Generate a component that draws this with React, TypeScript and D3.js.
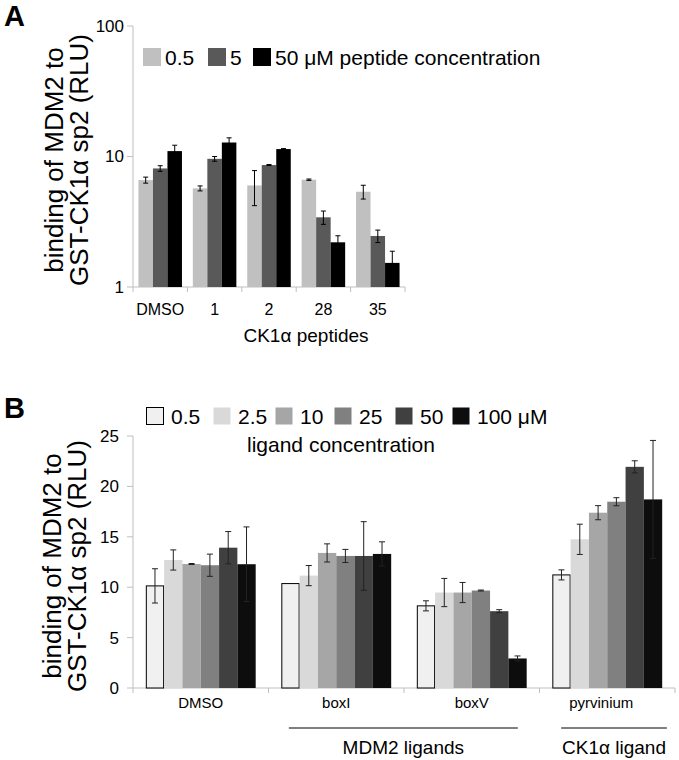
import React, { useEffect } from "react";
import * as d3 from "d3";

// ---------- Panel A data ----------
const peptides = ["DMSO", "1", "2", "28", "35"];
const peptideConc = ["0.5", "5", "50"];
const peptideColors = ["#c0c0c0", "#595959", "#000000"];
const peptideVals = [
  [6.6, 5.7, 6.0, 6.64, 5.37],
  [8.1, 9.6, 8.6, 3.42, 2.46],
  [11.0, 12.8, 11.4, 2.2, 1.53],
];
const peptideErr = [
  [0.35, 0.25, 1.8, 0.08, 0.65],
  [0.4, 0.4, 0.08, 0.4, 0.27],
  [1.2, 1.1, 0.1, 0.27, 0.35],
];
const aTicks = [1, 10, 100];

// ---------- Panel B data ----------
const ligands = ["DMSO", "boxI", "boxV", "pyrvinium"];
const ligandConc = ["0.5", "2.5", "10", "25", "50", "100 μM"];
const ligandColors = ["#f0f0f0", "#d9d9d9", "#a6a6a6", "#808080", "#404040", "#0d0d0d"];
const ligandVals = [
  [10.13, 10.36, 8.15, 11.22],
  [12.7, 11.15, 9.47, 14.75],
  [12.3, 13.4, 9.47, 17.39],
  [12.18, 13.1, 9.67, 18.48],
  [13.92, 13.1, 7.62, 21.94],
  [12.28, 13.3, 2.93, 18.71],
];
const ligandErr = [
  [1.7, 0, 0.5, 0.5],
  [1.0, 1.0, 1.4, 1.5],
  [0.05, 0.9, 1.0, 0.7],
  [1.1, 0.65, 0.05, 0.4],
  [1.6, 3.4, 0.15, 0.6],
  [3.7, 1.2, 0.25, 5.85],
];
const bTicks = [0, 5, 10, 15, 20, 25];
const groupLabels = [
  { text: "MDM2 ligands", from: "boxI", to: "boxV" },
  { text: "CK1α ligand", from: "pyrvinium", to: "pyrvinium" },
];

const FONT = "'Liberation Sans', Arial, Helvetica, sans-serif";
const AXIS = "#bfbfbf";

export default function App() {
  useEffect(() => {
    document.body.style.margin = "0";
  }, []);

  // Panel A scales
  const ax0 = d3.scaleBand<string>().domain(peptides).range([133, 405]).paddingInner(0).paddingOuter(0);
  const ax1 = d3.scaleBand<string>().domain(peptideConc).range([0, ax0.bandwidth()]).paddingInner(0).paddingOuter(0.375);
  const ay = d3.scaleLog().domain([1, 100]).range([287, 26]);

  // Panel B scales
  const bx0 = d3.scaleBand<string>().domain(ligands).range([133, 675]).paddingInner(0).paddingOuter(0);
  const bx1 = d3.scaleBand<string>().domain(ligandConc).range([0, bx0.bandwidth()]).paddingInner(0).paddingOuter(0.7);
  const by = d3.scaleLinear().domain([0, 25]).range([688, 436]);

  const aLegendX = [143, 208, 253];
  const bLegendX = [146, 213, 275, 334, 395, 452];

  return (
    <svg width={679} height={760} style={{ display: "block", fontFamily: FONT }}>
      <rect width={679} height={760} fill="#fff" />
      {/* ================= Panel A ================= */}
      <text x={4} y={26} fontSize={29} fontWeight="bold">A</text>
      {/* y axis */}
      <line x1={133} x2={133} y1={ay(100)} y2={ay(1)} stroke={AXIS} />
      {aTicks.map((t) => (
        <g key={t}>
          <line x1={127} x2={133} y1={ay(t)} y2={ay(t)} stroke={AXIS} />
          <text x={124} y={ay(t)} dy="0.35em" textAnchor="end" fontSize={17}>{t}</text>
        </g>
      ))}
      {/* x axis */}
      <line x1={133} x2={405} y1={ay(1)} y2={ay(1)} stroke={AXIS} />
      {peptides.map((c) => (
        <line key={c} x1={ax0(c)!} x2={ax0(c)!} y1={287} y2={292} stroke={AXIS} />
      ))}
      <line x1={405} x2={405} y1={287} y2={292} stroke={AXIS} />
      {peptides.map((c) => (
        <text key={c} x={ax0(c)! + ax0.bandwidth() / 2} y={315} textAnchor="middle" fontSize={16}>{c}</text>
      ))}
      <text x={306} y={342} textAnchor="middle" fontSize={19}>CK1α peptides</text>
      {/* bars */}
      {peptideConc.map((s, si) =>
        peptides.map((c, ci) => {
          const v = peptideVals[si][ci];
          const e = peptideErr[si][ci];
          const x = ax0(c)! + ax1(s)!;
          const w = ax1.bandwidth();
          const cx = x + w / 2;
          return (
            <g key={s + c}>
              <rect x={x} y={ay(v)} width={w} height={ay(1) - ay(v)} fill={peptideColors[si]} />
              <line x1={cx} x2={cx} y1={ay(v + e)} y2={ay(Math.max(1, v - e))} stroke="#000" strokeWidth={1} />
              <line x1={cx - 2.5} x2={cx + 2.5} y1={ay(v + e)} y2={ay(v + e)} stroke="#000" strokeWidth={1} />
              <line x1={cx - 2.5} x2={cx + 2.5} y1={ay(v - e)} y2={ay(v - e)} stroke="#000" strokeWidth={1} />
            </g>
          );
        })
      )}
      {/* legend A */}
      {peptideConc.map((s, i) => (
        <g key={s}>
          <rect x={aLegendX[i]} y={48} width={18} height={18} fill={peptideColors[i]} />
          <text x={aLegendX[i] + 22} y={65} fontSize={21}>{i === 2 ? "50 μM peptide concentration" : s}</text>
        </g>
      ))}
      {/* y title A */}
      <g transform="translate(0,160)">
        <text transform="translate(63,0) rotate(-90)" textAnchor="middle" fontSize={26}>binding of MDM2 to</text>
        <text transform="translate(88,0) rotate(-90)" textAnchor="middle" fontSize={26}>GST-CK1α sp2 (RLU)</text>
      </g>

      {/* ================= Panel B ================= */}
      <text x={4} y={418} fontSize={29} fontWeight="bold">B</text>
      <line x1={133} x2={133} y1={by(25)} y2={by(0)} stroke={AXIS} />
      {bTicks.map((t) => (
        <g key={t}>
          <line x1={127} x2={133} y1={by(t)} y2={by(t)} stroke={AXIS} />
          <text x={119} y={by(t)} dy="0.35em" textAnchor="end" fontSize={17}>{t}</text>
        </g>
      ))}
      <line x1={133} x2={675} y1={by(0)} y2={by(0)} stroke={AXIS} />
      {ligands.map((c) => (
        <line key={c} x1={bx0(c)!} x2={bx0(c)!} y1={688} y2={693} stroke={AXIS} />
      ))}
      <line x1={675} x2={675} y1={688} y2={693} stroke={AXIS} />
      {ligands.map((c) => (
        <text key={c} x={bx0(c)! + bx0.bandwidth() / 2 - (c === "pyrvinium" ? 6 : 0)} y={708} textAnchor="middle" fontSize={15}>{c}</text>
      ))}
      {groupLabels.map((g) => {
        const single = g.from === g.to;
        const x1b = bx0(g.from)! + bx0.bandwidth() * (single ? 0.16 : 0.15);
        const x2b = bx0(g.to)! + bx0.bandwidth() * (single ? 0.94 : 0.84);
        return (
          <g key={g.text}>
            <line x1={x1b} x2={x2b} y1={728} y2={728} stroke="#000" strokeWidth={1} />
            <text x={(x1b + x2b) / 2} y={754} textAnchor="middle" fontSize={19}>{g.text}</text>
          </g>
        );
      })}
      {ligandConc.map((s, si) =>
        ligands.map((c, ci) => {
          const v = ligandVals[si][ci];
          const e = ligandErr[si][ci];
          const x = bx0(c)! + bx1(s)!;
          const w = bx1.bandwidth();
          const cx = x + w / 2;
          return (
            <g key={s + c}>
              <rect
                x={si === 0 ? x + 0.5 : x}
                y={by(v)}
                width={si === 0 ? w - 1 : w}
                height={by(0) - by(v)}
                fill={ligandColors[si]}
                stroke={si === 0 ? "#000" : "none"}
                strokeWidth={1}
              />
              {e > 0 && (
                <g stroke="#222" strokeWidth={1}>
                  <line x1={cx} x2={cx} y1={by(v + e)} y2={by(v - e)} />
                  <line x1={cx - 3} x2={cx + 3} y1={by(v + e)} y2={by(v + e)} />
                  <line x1={cx - 3} x2={cx + 3} y1={by(v - e)} y2={by(v - e)} />
                </g>
              )}
            </g>
          );
        })
      )}
      {/* legend B */}
      {ligandConc.map((s, i) => (
        <g key={s}>
          <rect
            x={bLegendX[i] + 0.5}
            y={407.5}
            width={17}
            height={17}
            fill={ligandColors[i]}
            stroke={i === 0 ? "#000" : "none"}
          />
          <text x={bLegendX[i] + 25} y={424} fontSize={21}>{s}</text>
        </g>
      ))}
      <text x={247} y={452} fontSize={21}>ligand concentration</text>
      <g transform="translate(0,566)">
        <text transform="translate(61,0) rotate(-90)" textAnchor="middle" fontSize={26}>binding of MDM2 to</text>
        <text transform="translate(86,0) rotate(-90)" textAnchor="middle" fontSize={26}>GST-CK1α sp2 (RLU)</text>
      </g>
    </svg>
  );
}
